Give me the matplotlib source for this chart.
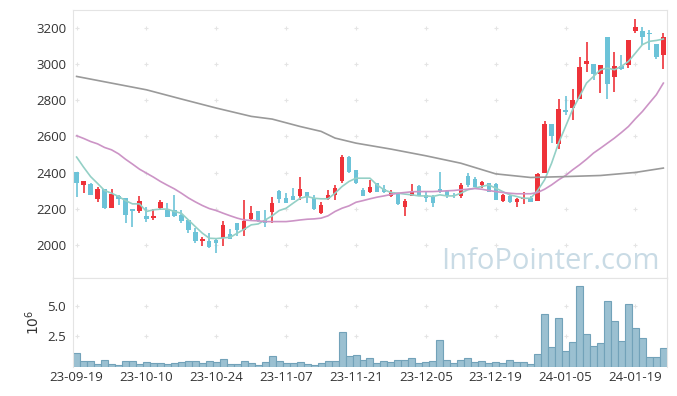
import numpy as np
import matplotlib
matplotlib.use("Agg")
import matplotlib.pyplot as plt

plt.rcParams['font.family'] = ['Open Sans', 'DejaVu Sans']

# daily candles
opens = [2402, 2329, 2338, 2255, 2310, 2203, 2271, 2260, 2199, 2185,
         2161, 2150, 2203, 2194, 2194, 2166, 2138, 2070, 2024, 2024,
         2028, 2037, 2059, 2120, 2083, 2144, 2185, 2138, 2181, 2299,
         2258, 2271, 2268, 2292, 2258, 2179, 2253, 2277, 2351, 2489,
         2415, 2305, 2290, 2342, 2308, 2271, 2281, 2212, 2271, 2327,
         2277, 2264, 2310, 2299, 2277, 2268, 2382, 2366, 2332, 2342,
         2338, 2244, 2271, 2238, 2253, 2258, 2245, 2400, 2670, 2560,
         2748, 2757, 2808, 3000, 3000, 2947, 3150, 2929, 2991, 2997,
         3181, 3181, 3172, 3113, 3049]
highs = [2405, 2354, 2340, 2323, 2312, 2308, 2275, 2262, 2201, 2271,
         2212, 2198, 2249, 2234, 2277, 2194, 2140, 2092, 2041, 2065,
         2037, 2133, 2087, 2122, 2249, 2216, 2187, 2194, 2264, 2305,
         2286, 2314, 2375, 2294, 2277, 2240, 2305, 2332, 2498, 2490,
         2416, 2314, 2360, 2345, 2332, 2305, 2282, 2253, 2338, 2329,
         2290, 2277, 2406, 2301, 2286, 2342, 2400, 2373, 2351, 2345,
         2342, 2281, 2277, 2258, 2290, 2268, 2400, 2683, 2670, 2807,
         2821, 2862, 3039, 3120, 3000, 2997, 3150, 3065, 3052, 3135,
         3250, 3205, 3191, 3113, 3172]
lows = [2264, 2286, 2277, 2240, 2197, 2203, 2221, 2120, 2098, 2175,
        2124, 2138, 2194, 2157, 2157, 2120, 2065, 2013, 1994, 1982,
        1954, 1996, 2031, 2050, 2050, 2138, 2129, 2098, 2120, 2231,
        2231, 2249, 2249, 2231, 2194, 2172, 2249, 2249, 2342, 2397,
        2338, 2271, 2286, 2290, 2286, 2264, 2221, 2161, 2268, 2268,
        2240, 2209, 2286, 2258, 2258, 2258, 2323, 2319, 2314, 2292,
        2249, 2240, 2234, 2209, 2227, 2238, 2245, 2400, 2563, 2530,
        2720, 2689, 2808, 2954, 2914, 2840, 2809, 2844, 2970, 2978,
        3172, 3108, 3080, 3028, 2973]
closes = [2345, 2354, 2277, 2310, 2203, 2281, 2255, 2164, 2185, 2244,
          2144, 2161, 2240, 2157, 2161, 2135, 2083, 2024, 2033, 1991,
          2013, 2111, 2035, 2083, 2133, 2175, 2135, 2120, 2231, 2255,
          2234, 2249, 2310, 2268, 2198, 2221, 2277, 2314, 2489, 2402,
          2342, 2271, 2318, 2295, 2290, 2290, 2227, 2245, 2299, 2268,
          2258, 2234, 2292, 2268, 2268, 2332, 2329, 2323, 2347, 2295,
          2249, 2277, 2240, 2253, 2258, 2240, 2393, 2670, 2600, 2751,
          2733, 2803, 2984, 3019, 2947, 2997, 2890, 2991, 2975, 3135,
          3205, 3150, 3165, 3039, 3150]

# volume in millions
volumes = [1.14, 0.49, 0.49, 0.24, 0.57, 0.24, 0.16, 0.49, 0.49, 0.24,
           0.41, 0.33, 0.33, 0.24, 0.33, 0.41, 0.49, 0.49, 0.33, 0.49,
           0.41, 0.65, 0.24, 0.24, 0.49, 0.33, 0.16, 0.41, 0.90, 0.49,
           0.33, 0.33, 0.41, 0.24, 0.16, 0.33, 0.49, 0.49, 2.85, 0.90,
           0.98, 0.57, 0.73, 0.33, 0.49, 0.41, 0.57, 0.57, 0.73, 0.33,
           0.41, 0.49, 2.20, 0.57, 0.33, 0.57, 0.73, 0.41, 0.49, 0.33,
           0.41, 0.33, 0.57, 0.41, 0.41, 0.24, 1.06, 4.32, 1.63, 3.99,
           1.30, 2.04, 6.60, 2.69, 1.71, 1.96, 5.38, 3.75, 2.12, 5.14,
           3.18, 2.36, 0.82, 0.82, 1.55]

# moving averages
ma5 = [2486, 2430, 2378, 2340, 2301, 2286, 2268, 2245, 2227, 2227,
       2185, 2194, 2198, 2198, 2185, 2175, 2138, 2101, 2065, 2037,
       2035, 2039, 2042, 2065, 2087, 2111, 2116, 2138, 2161, 2190,
       2203, 2231, 2258, 2268, 2258, 2255, 2255, 2286, 2323, 2351,
       2369, 2369, 2369, 2332, 2305, 2290, 2286, 2281, 2277, 2271,
       2271, 2268, 2277, 2271, 2271, 2286, 2305, 2314, 2323, 2332,
       2314, 2295, 2277, 2268, 2258, 2258, 2301, 2360, 2452, 2563,
       2655, 2748, 2821, 2895, 2932, 2969, 2978, 2969, 2988, 3015,
       3061, 3108, 3126, 3131, 3139]
ma20 = [2604, 2589, 2572, 2559, 2539, 2526, 2504, 2474, 2447, 2419,
        2397, 2375, 2351, 2330, 2310, 2286, 2260, 2238, 2218, 2201,
        2190, 2175, 2161, 2148, 2138, 2135, 2133, 2129, 2129, 2129,
        2129, 2133, 2138, 2142, 2144, 2148, 2161, 2185, 2203, 2216,
        2236, 2245, 2255, 2264, 2271, 2279, 2286, 2290, 2294, 2295,
        2295, 2295, 2297, 2299, 2301, 2305, 2308, 2312, 2308, 2301,
        2295, 2290, 2286, 2283, 2283, 2283, 2290, 2308, 2332, 2360,
        2384, 2415, 2443, 2474, 2508, 2535, 2563, 2591, 2622, 2655,
        2698, 2738, 2785, 2831, 2895]
ma120_idx = [0, 5, 10, 15, 20, 25, 28, 32, 35, 37, 40, 45, 50, 55, 60, 65, 70, 75, 80, 84]
ma120 = [2932, 2895, 2858, 2807, 2757, 2711, 2696, 2655, 2628, 2591,
         2563, 2530, 2493, 2452, 2393, 2373, 2378, 2384, 2401, 2425]

tick_pos = [0, 10, 20, 30, 40, 50, 60, 70, 80]
tick_labels = ['23-09-19', '23-10-10', '23-10-24', '23-11-07', '23-11-21',
               '23-12-05', '23-12-19', '24-01-05', '24-01-19']
price_ticks = [2000, 2200, 2400, 2600, 2800, 3000, 3200]
vol_ticks = [2.5, 5.0]

UP = '#ee3239'
DOWN = '#6cc3d8'
SPINE = '#e4e4e4'
GRIDC = '#e4e4e4'

o = np.array(opens); h = np.array(highs); l = np.array(lows); c = np.array(closes)
x = np.arange(len(o))
cols = [UP if cc >= oo else DOWN for oo, cc in zip(o, c)]

fig = plt.figure(figsize=(6.77, 3.96), dpi=100)
ax = fig.add_axes([0.108, 0.298, 0.877, 0.677])
ax2 = fig.add_axes([0.108, 0.073, 0.877, 0.225], sharex=ax)

# grid crosses
gx, gy = np.meshgrid(tick_pos, price_ticks)
ax.scatter(gx.ravel(), gy.ravel(), marker='+', s=12, color=GRIDC, linewidths=0.8, zorder=0)

ax.vlines(x, l, h, colors=cols, linewidth=1.2, zorder=2)
body = np.maximum(np.abs(c - o), 4)
ax.bar(x, body, bottom=np.minimum(o, c), width=0.62, color=cols, zorder=2)

ax.plot(x, ma5, color='#94d0c6', lw=1.2, zorder=3)
ax.plot(x, ma20, color='#cc94c6', lw=1.2, zorder=3)
ax.plot(ma120_idx, ma120, color='#9a9a9a', lw=1.2, zorder=3)

ax.text(0.988, 0.035, 'InfoPointer.com', transform=ax.transAxes, ha='right', va='baseline',
        fontsize=21, color='#c9dbe5', zorder=1)

ax.set_xlim(-0.5, 84.5)
ax.set_ylim(1817, 3300)
ax.set_yticks(price_ticks)
ax.tick_params(axis='y', length=0, pad=5, labelsize=9.5, labelcolor='#333333')
ax.tick_params(axis='x', length=0, labelbottom=False)
for s in ax.spines.values():
    s.set_color(SPINE)

# volume panel
gx2, gy2 = np.meshgrid(tick_pos, vol_ticks)
ax2.scatter(gx2.ravel(), gy2.ravel(), marker='+', s=12, color=GRIDC, linewidths=0.8, zorder=0)
ax2.bar(x, volumes, width=1.0, color='#9bc0d1', edgecolor='#72a2b9', linewidth=0.8, zorder=2)
ax2.set_ylim(0, 7.25)
ax2.set_yticks(vol_ticks)
ax2.set_yticklabels(['2.5', '5.0'])
ax2.set_xticks(tick_pos)
ax2.set_xticklabels(tick_labels)
ax2.tick_params(axis='both', length=0, labelsize=9.5, labelcolor='#333333')
ax2.tick_params(axis='y', pad=5)
ax2.tick_params(axis='x', pad=3)
ax2.set_ylabel('$10^6$', fontsize=10, color='#333333', labelpad=3)
for s in ax2.spines.values():
    s.set_color(SPINE)
ax2.spines['bottom'].set_visible(False)

fig.savefig('out.png', dpi=100)
